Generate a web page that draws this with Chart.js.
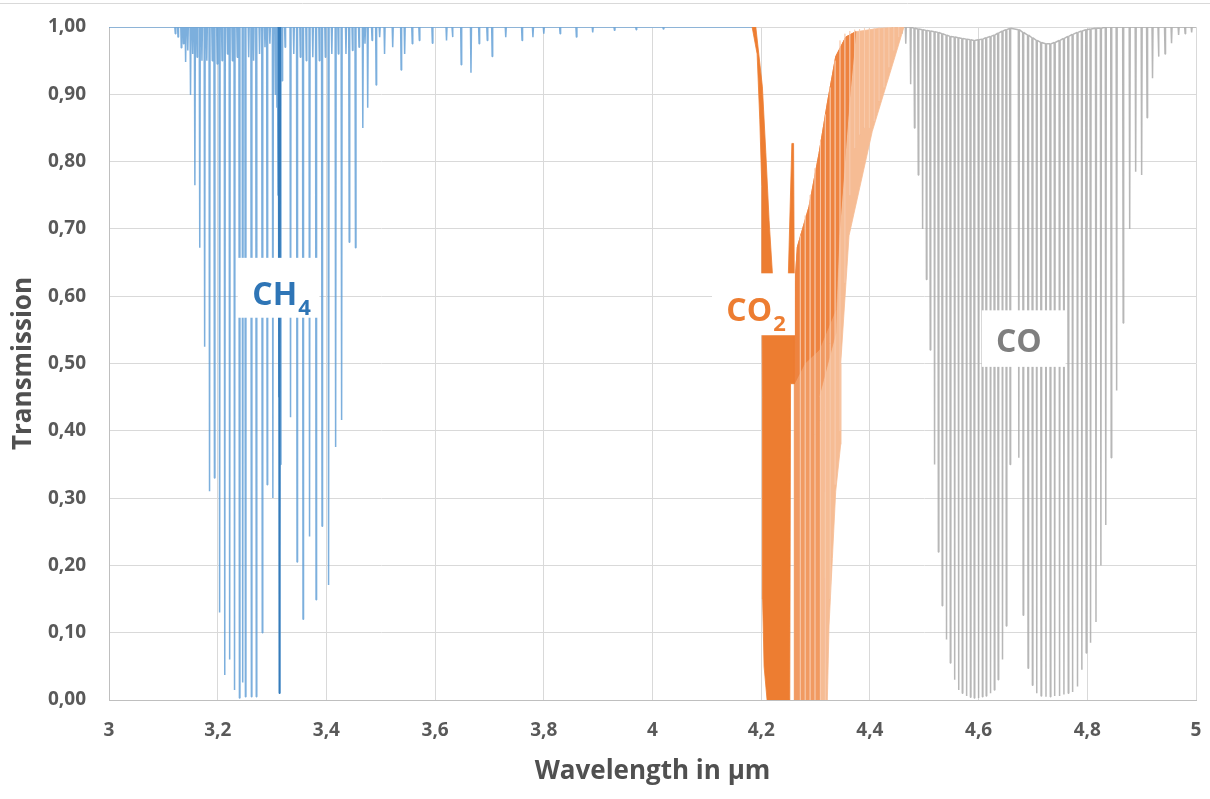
<!DOCTYPE html>
<html><head><meta charset="utf-8">
<script src="https://cdn.jsdelivr.net/npm/chart.js@4.4.1/dist/chart.umd.min.js"></script>
<style>html,body{margin:0;padding:0;background:#fff;}#wrap{width:1210px;height:799px;}</style>
</head><body><div id="wrap"><canvas id="c" width="1210" height="799"></canvas></div>
<script>
// ---------- data ----------
const xRange = [3, 5];
const yRange = [0, 1];

// CH4 absorption lines: centre wavelength (µm) and minimum transmission
const ch4Wl  = [3.122,3.127,3.133,3.137,3.141,3.145,3.150,3.154,3.158,3.162,3.167,3.171,3.176,3.180,3.185,3.190,3.194,3.199,3.2035,3.208,3.213,3.218,3.222,3.227,3.231,3.236,3.240,3.246,3.251,3.257,3.262,3.266,3.271,3.277,3.282,3.287,3.291,3.296,3.3015,3.306,3.309,3.311,3.3135,3.3155,3.3185,3.324,3.334,3.340,3.346,3.352,3.357,3.363,3.369,3.375,3.381,3.387,3.392,3.398,3.404,3.410,3.417,3.422,3.428,3.436,3.442,3.448,3.4535,3.460,3.467,3.471,3.476,3.484,3.4915,3.498,3.507,3.522,3.5375,3.544,3.558,3.571,3.595,3.621,3.632,3.648,3.666,3.681,3.696,3.705,3.73,3.76,3.78,3.80,3.83,3.86,3.89,3.93,3.97,4.02];
const ch4Min = [0.99,0.985,0.969,0.975,0.948,0.965,0.899,0.96,0.765,0.955,0.672,0.95,0.525,0.95,0.31,0.95,0.33,0.945,0.13,0.95,0.037,0.96,0.06,0.95,0.015,0.955,0.003,0.026,0.005,0.955,0.005,0.95,0.005,0.96,0.10,0.97,0.32,0.975,0.30,0.90,0.88,0.75,0.01,0.35,0.92,0.97,0.42,0.96,0.205,0.955,0.12,0.95,0.243,0.955,0.149,0.95,0.258,0.955,0.171,0.96,0.376,0.96,0.416,0.96,0.68,0.965,0.672,0.97,0.85,0.975,0.88,0.98,0.914,0.985,0.96,0.97,0.936,0.96,0.975,0.98,0.976,0.98,0.985,0.944,0.932,0.975,0.98,0.956,0.985,0.98,0.985,0.99,0.99,0.985,0.992,0.995,0.996,0.997];
// strong Q-branch core of CH4 (drawn darker)
const ch4QWl  = [3.3125,3.3135,3.3145];
const ch4QMin = [0.45,0.01,0.20];

// CO absorption lines: centre, minimum transmission, transmission just beside the line
const coWl  = [4.459,4.466,4.475,4.482,4.489,4.497,4.504,4.511,4.519,4.526,4.533,4.541,4.548,4.556,4.563,4.570,4.578,4.585,4.592,4.600,4.607,4.614,4.622,4.629,4.636,4.644,4.651,4.658,
               4.674,4.682,4.691,4.699,4.707,4.715,4.724,4.732,4.740,4.749,4.757,4.765,4.773,4.782,4.790,4.798,4.806,4.816,4.825,4.834,4.844,4.854,4.866,4.878,4.889,4.900,4.910,4.920,4.931,4.943,4.955,4.968,4.980,4.992];
const coMin = [0.99,0.975,0.915,0.85,0.78,0.70,0.625,0.52,0.35,0.22,0.14,0.09,0.055,0.03,0.015,0.01,0.006,0.004,0.003,0.003,0.005,0.006,0.01,0.015,0.03,0.06,0.11,0.35,
               0.36,0.126,0.047,0.022,0.01,0.006,0.005,0.005,0.006,0.006,0.008,0.01,0.012,0.02,0.045,0.07,0.085,0.116,0.20,0.26,0.36,0.46,0.56,0.70,0.785,0.78,0.865,0.924,0.956,0.96,0.976,0.988,0.99,0.992];
const coTop = [1,1,1,0.998,0.997,0.996,0.995,0.994,0.993,0.992,0.99,0.988,0.986,0.985,0.984,0.983,0.982,0.981,0.98,0.981,0.982,0.984,0.986,0.988,0.991,0.994,0.996,0.998,
               0.996,0.992,0.988,0.984,0.98,0.977,0.975,0.975,0.977,0.98,0.983,0.986,0.989,0.992,0.994,0.996,0.997,0.998,0.998,1,1,1,1,1,1,1,1,1,1,1,1,1,1,1];

// CO2 band outlines (closed shapes): wavelength and transmission of each corner
const co2RWl  = [4.1833,4.1901,4.2022,4.2085,4.2145,4.2206,4.2329,4.2458,4.2500,4.2564,4.2596,4.2610,4.2610,4.2540,4.2526,4.2108,4.2053,4.2026,4.2022,4.2011,4.2011,4.1974,4.1925,4.1833];
const co2RT   = [1.0,1.0,0.911,0.813,0.713,0.634,0.58,0.58,0.634,0.827,0.827,0.60,0.47,0.47,0.0,0.0,0.05,0.15,0.45,0.634,0.763,0.862,0.96,1.0];
const co2PLightWl = [4.2605,4.2610,4.2623,4.2665,4.2880,4.3064,4.3217,4.3371,4.3555,4.3739,4.4167,4.4627,4.4044,4.3616,4.3463,4.3463,4.3371,4.3309,4.3248,4.3217,4.2605];
const co2PLightT  = [0.0,0.47,0.62,0.673,0.733,0.812,0.887,0.956,0.985,0.993,0.998,1.0,0.845,0.69,0.50,0.38,0.31,0.21,0.11,0.0,0.0];
const co2PMidWl = [4.2605,4.2610,4.2623,4.2665,4.2880,4.3064,4.3217,4.3371,4.3555,4.3739,4.3616,4.3555,4.3432,4.3371,4.3064,4.3064,4.2605];
const co2PMidT  = [0.0,0.47,0.62,0.673,0.733,0.812,0.887,0.956,0.985,0.993,0.887,0.822,0.69,0.545,0.45,0.0,0.0];
const co2PDarkWl = [4.2610,4.2623,4.2665,4.2880,4.3064,4.3217,4.3371,4.3555,4.3739,4.3616,4.3555,4.3432,4.3371,4.3064,4.2800,4.2610];
const co2PDarkT  = [0.47,0.62,0.673,0.733,0.812,0.887,0.956,0.985,0.993,0.887,0.822,0.69,0.58,0.52,0.50,0.47];
// lighter CO2 lines running through the P branch (striations)
const co2StripeWl  = [4.272,4.281,4.290,4.299,4.309,4.318,4.327,4.336,4.345,4.354,4.363,4.372,4.381,4.390,4.399,4.408,4.417,4.426,4.435,4.444,4.453];
const co2StripeTop = [0.69,0.72,0.75,0.79,0.83,0.87,0.91,0.95,0.98,0.99,0.994,0.996,0.997,0.998,0.998,0.998,0.999,0.999,1.0,1.0,1.0];
const co2StripeMin = [0.0,0.0,0.0,0.0,0.0,0.0,0.15,0.32,0.40,0.62,0.75,0.82,0.84,0.85,0.85,0.86,0.89,0.91,0.94,0.965,0.985];

const xTickStep = 0.2;
const yTickStep = 0.1;

// ---------- build datasets ----------
const LINE_HALF = 0.0009;
function lineTrace(wl, mins, tops, start, end) {
  const pts = [{x: start, y: 1}];
  for (let i = 0; i < wl.length; i++) {
    const t = tops ? tops[i] : 1;
    pts.push({x: wl[i] - LINE_HALF, y: t}, {x: wl[i], y: mins[i]}, {x: wl[i] + LINE_HALF, y: t});
  }
  pts.push({x: end, y: 1});
  return pts;
}
function segments(wl, tops, mins) {
  const pts = [];
  for (let i = 0; i < wl.length; i++) {
    pts.push({x: wl[i], y: tops[i]}, {x: wl[i], y: mins[i]}, {x: NaN, y: NaN});
  }
  return pts;
}
function shape(wl, t) { return wl.map((x, i) => ({x, y: t[i]})); }

const datasets = [
  {label:'CO', data: lineTrace(coWl, coMin, coTop, 4.44, 5.0), borderColor:'rgba(170,170,170,0.85)', borderWidth:1.5, order:6},
  {label:'CH4', data: lineTrace(ch4Wl, ch4Min, null, 3.0, 4.19), borderColor:'rgba(91,155,213,0.8)', borderWidth:1.5, order:5},
  {label:'CH4 Q', data: lineTrace(ch4QWl, ch4QMin, null, 3.31, 3.317), borderColor:'rgba(46,117,182,0.9)', borderWidth:1.4, order:4.5},
  {label:'CO2 P light', data: shape(co2PLightWl, co2PLightT), borderColor:'#F6BC94', backgroundColor:'#F6BC94', fill:'shape', borderWidth:0.8, order:3},
  {label:'CO2 P mid', data: shape(co2PMidWl, co2PMidT), borderColor:'#F19A62', backgroundColor:'#F19A62', fill:'shape', borderWidth:0.8, order:2.5},
  {label:'CO2 P dark', data: shape(co2PDarkWl, co2PDarkT), borderColor:'#EE833F', backgroundColor:'#EE833F', fill:'shape', borderWidth:0.8, order:2},
  {label:'CO2 stripes', data: segments(co2StripeWl, co2StripeTop, co2StripeMin), borderColor:'rgba(248,203,173,0.55)', borderWidth:1, spanGaps:false, order:1.5},
  {label:'CO2 R', data: shape(co2RWl, co2RT), borderColor:'#ED7D31', backgroundColor:'#ED7D31', fill:'shape', borderWidth:0.8, order:1}
];
datasets.forEach(d => { d.pointRadius = 0; d.tension = 0; d.borderJoinStyle = 'bevel'; if (!d.fill) d.fill = false; });

// ---------- annotations (species labels on white boxes) ----------
const labelDefs = [
  {main:'CH', sub:'4', color:'#2E75B6', cx:3.3175, cy:0.604, box:[3.237,3.387,0.657,0.568]},
  {main:'CO', sub:'2', color:'#ED7D31', cx:4.1906, cy:0.5795, box:[4.1095,4.262,0.634,0.542]},
  {main:'CO', sub:'',  color:'#7F7F7F', cx:4.674,  cy:0.534, box:[4.606,4.760,0.579,0.495]}
];
const FONT = '"Open Sans", "DejaVu Sans", sans-serif';
const labelPlugin = {
  id: 'speciesLabels',
  beforeDraw(chart) {
    const ctx = chart.ctx;
    ctx.save();
    ctx.strokeStyle = '#D9D9D9'; ctx.lineWidth = 1;
    ctx.beginPath(); ctx.moveTo(0, 3.5); ctx.lineTo(chart.width, 3.5); ctx.stroke();
    ctx.restore();
  },
  afterDatasetsDraw(chart) {
    const {ctx, scales: {x, y}} = chart;
    ctx.save();
    labelDefs.forEach(l => {
      const x0 = x.getPixelForValue(l.box[0]), x1 = x.getPixelForValue(l.box[1]);
      const y0 = y.getPixelForValue(l.box[2]), y1 = y.getPixelForValue(l.box[3]);
      ctx.fillStyle = '#FFFFFF';
      ctx.fillRect(x0, y0, x1 - x0, y1 - y0);
      ctx.fillStyle = l.color;
      ctx.textBaseline = 'alphabetic';
      ctx.font = 'bold 32px ' + FONT;
      const wMain = ctx.measureText(l.main).width;
      ctx.font = 'bold 22px ' + FONT;
      const wSub = l.sub ? ctx.measureText(l.sub).width + 1 : 0;
      const left = x.getPixelForValue(l.cx) - (wMain + wSub) / 2;
      const base = y.getPixelForValue(l.cy) + 11.5;
      ctx.font = 'bold 32px ' + FONT;
      ctx.fillText(l.main, left, base);
      if (l.sub) { ctx.font = 'bold 22px ' + FONT; ctx.fillText(l.sub, left + wMain + 1, base + 10); }
    });
    ctx.restore();
  }
};

new Chart(document.getElementById('c'), {
  type: 'line',
  data: { datasets },
  plugins: [labelPlugin],
  options: {
    responsive: false, animation: false, events: [],
    layout: { padding: { left: 0, right: 14, top: 27, bottom: 0 } },
    plugins: { legend: { display: false }, tooltip: { enabled: false } },
    scales: {
      x: {
        type: 'linear', min: xRange[0], max: xRange[1],
        afterFit: s => { s.height = 99; s.paddingLeft = 0; s.paddingRight = 0; },
        ticks: { stepSize: xTickStep, padding: 19, color: '#595959', font: { family: FONT, weight: 'bold', size: 19 },
          callback: v => String(Math.round(v * 10) / 10).replace('.', ',') },
        grid: { color: '#D9D9D9', lineWidth: 1, drawTicks: false },
        border: { color: '#BFBFBF', width: 1 },
        title: { display: true, text: 'Wavelength in µm', color: '#505050', font: { family: FONT, weight: 'bold', size: 26 }, padding: { top: 0, bottom: 12 } }
      },
      y: {
        min: yRange[0], max: yRange[1],
        afterFit: s => { s.width = 109; s.paddingTop = 0; s.paddingBottom = 0; },
        ticks: { stepSize: yTickStep, padding: 23, color: '#595959', font: { family: FONT, weight: 'bold', size: 19 },
          callback: v => v.toFixed(2).replace('.', ',') },
        grid: { color: '#D9D9D9', lineWidth: 1, drawTicks: false },
        border: { color: '#BFBFBF', width: 1 },
        title: { display: true, text: 'Transmission', color: '#505050', font: { family: FONT, weight: 'bold', size: 26 }, padding: { top: 8, bottom: 0 } }
      }
    }
  }
});
</script>
</body></html>
